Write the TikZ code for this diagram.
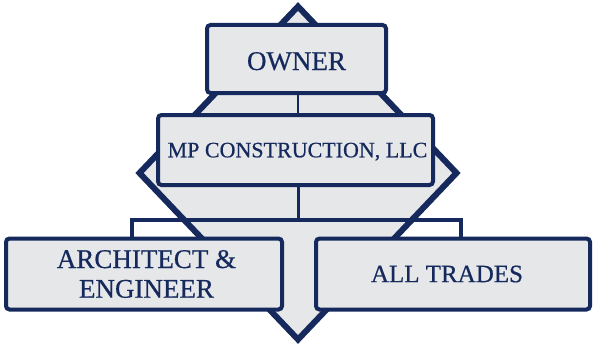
\documentclass[tikz,border=0pt]{standalone}
\usepackage{fontspec}
\setmainfont{Liberation Serif}
\newfontfamily\labelfont{Liberation Serif}[FakeBold=0.6]
\definecolor{navy}{RGB}{21,41,92}
\definecolor{boxfill}{RGB}{230,231,233}
\begin{document}
\begin{tikzpicture}[x=1pt,y=-1pt,
  orgbox/.style={draw=navy, fill=boxfill, line width=4pt, rounded corners=3.5pt,
    text=navy, align=center, inner sep=0pt},
  thinconn/.style={draw=navy, line width=2.4pt},
  bracketline/.style={draw=navy, line width=4pt, line join=miter},
]
\useasboundingbox (0,0) rectangle (593,345);
% diamond
\draw[navy, fill=boxfill, line width=6pt, line join=miter]
  (298,6.5) -- (456.5,173) -- (298,339.5) -- (139.5,173) -- cycle;
% boxes
\node[orgbox, minimum width=179pt, minimum height=68pt,
  font=\labelfont\fontsize{27}{30}\selectfont, text height=22pt, text depth=0pt]
  (owner) at (296.5,59) {OWNER};
\node[orgbox, minimum width=275pt, minimum height=70pt,
  font=\labelfont\fontsize{22}{26}\selectfont, text height=14.6pt, text depth=0pt]
  (mp) at (295.5,150) {\hspace*{4pt}MP CONSTRUCTION, LLC};
% connectors (drawn before lower boxes)
\coordinate (bl) at (131.5,220);
\coordinate (br) at (461,220);
\coordinate (split) at (298.3,220);
\draw[thinconn] ([xshift=2.8pt]mp.south) -- (split);
\draw[bracketline] (bl |- 0,238) -- (bl) -- (br) -- (br |- 0,238);
\node[orgbox, minimum width=276pt, minimum height=71pt,
  font=\labelfont\fontsize{27}{29.7}\selectfont]
  (arch) at (144,274) {\hspace*{5pt}ARCHITECT \&\\\hspace*{5pt}ENGINEER};
\node[orgbox, minimum width=274pt, minimum height=71pt,
  font=\labelfont\fontsize{25}{28}\selectfont]
  (trades) at (453,274) {\hspace*{-12pt}ALL TRADES};
% owner-mp connector
\draw[navy, line width=2pt] ([xshift=1.8pt]owner.south) ++(0,2pt) -- ([xshift=1.8pt]owner.south |- mp.north);
\end{tikzpicture}
\end{document}
